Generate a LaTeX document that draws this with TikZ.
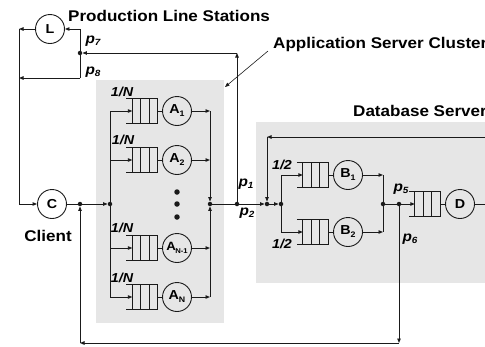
\documentclass[tikz,border=0pt]{standalone}
\usepackage{fontspec}
\setmainfont{Liberation Sans}[FakeStretch=1.1]
\usetikzlibrary{arrows.meta}
\definecolor{boxgray}{HTML}{E6E6E6}
\definecolor{ink}{HTML}{1A1A1A}
\newcommand\subx[2]{\raisebox{-#2}{\fontsize{8}{8}\selectfont #1}}
\newcommand\plab[1]{{\fontsize{14}{14}\selectfont\bfseries\itshape p}\raisebox{-2.5pt}{\fontsize{9}{9}\selectfont\bfseries\itshape #1}}
\newcommand\drawqueue[1]{%
  \draw[wire] ([xshift=-6pt]#1.north west) -- (#1.north east) -- (#1.south east) -- ([xshift=-6pt]#1.south west);
  \foreach \s in {0,8.33,16.67} \draw[wire] ([xshift=\s pt]#1.north west) -- ([xshift=\s pt]#1.south west);}
\tikzset{
  wire/.style={draw=ink, line width=0.9pt},
  arr/.style={wire, -{Triangle[length=4.5pt,width=3.5pt]}},
  server/.style={circle, draw=ink, line width=0.9pt, minimum size=29pt, inner sep=0pt, font=\fontsize{13}{13}\selectfont\bfseries},
  queue/.style={rectangle, minimum width=25pt, minimum height=25pt, inner sep=0pt},
  dot/.style={circle, fill=ink, minimum size=4.5pt, inner sep=0pt},
  bigdot/.style={circle, fill=ink, minimum size=5.5pt, inner sep=0pt},
  lbl/.style={font=\fontsize{15.5}{15.5}\selectfont\bfseries, inner sep=0pt},
  fraclbl/.style={font=\fontsize{13}{13}\selectfont\bfseries\itshape, inner sep=0pt},
  plbl/.style={inner sep=0pt},
}
\begin{document}
\begin{tikzpicture}[x=1pt,y=-1pt]
\useasboundingbox (0,0) rectangle (485,346);
\clip (0,0) rectangle (485,346);
% panels
\fill[boxgray] (96,80) rectangle (224,323);
\fill[boxgray] (256,122) rectangle (495,283);
% titles
\node[lbl, anchor=west] (tpl) at (68,16) {Production Line Stations};
\node[lbl, anchor=west] (tas) at (273,44) {Application Server Cluster};
\node[lbl, anchor=west] (tdb) at (353,111) {Database Server};
\node[lbl] (tcl) at (48,236) {Client};
% main nodes
\node[server] (L) at (50,29) {L};
\node[server] (C) at (52,204) {C};
% junctions
\node[dot] (p78) at (80,53) {};
\node[dot] (jc) at (80,204) {};
\node[dot] (aL) at (110,204) {};
\node[dot] (aR) at (210,204) {};
\node[dot] (p12) at (237,204) {};
\node[dot] (dbin) at (267,204) {};
\node[dot] (bL) at (281,204) {};
\node[dot] (bR) at (383,204) {};
\node[dot] (p56) at (399,204) {};
% coordinates
\coordinate (lw) at (19,29);
\coordinate (p7c) at (80,29);
\coordinate (p8c) at (80,78);
\coordinate (p8end) at (19,78);
\coordinate (tr) at (237,53);
\coordinate (fbL) at (267,137);
\coordinate (fbR) at (489,137);
\coordinate (dOut) at (489,204);
\coordinate (bcR) at (399,343);
\coordinate (bcL) at (80,343);
\coordinate (leadA) at (268,51);
\coordinate (leadB) at (225,87);
% application servers
\foreach \n/\y in {1/111,2/160,3/248,4/297}{
  \node[queue] (qa\n) at (145,\y) {};
  \drawqueue{qa\n}
}
\node[server] (a1) at (177,111) {A\subx{1}{3pt}};
\node[server] (a2) at (177,160) {A\subx{2}{3pt}};
\node[server] (a3) at (177,248) {\fontsize{12}{12}\selectfont A\kern-0.5pt\subx{\fontsize{7}{7}\selectfont N-1}{2.5pt}};
\node[server] (a4) at (177,297) {A\subx{N}{3pt}};
\node[bigdot] (e1) at (177,192) {};
\node[bigdot] (e2) at (177,204) {};
\node[bigdot] (e3) at (177,217) {};
\foreach \n in {1,2,3,4}{
  \draw[arr] (aL) |- (qa\n.west);
  \draw[wire] (qa\n.east) -- (a\n.west);
  \draw[arr] (a\n.east) -- (aR |- a\n);
}
\draw[arr] (aR |- a1) -- (aR);
\draw[arr] (aR |- a4) -- (aR);
\node[fraclbl] (f1) at (122,92) {1/N};
\node[fraclbl] (f2) at (123,140) {1/N};
\node[fraclbl] (f3) at (122,228) {1/N};
\node[fraclbl] (f4) at (122,278) {1/N};
% database
\node[queue] (qb1) at (315.5,175) {};
\node[queue] (qb2) at (315.5,232) {};
\node[queue] (qd) at (427.5,204) {};
\drawqueue{qb1}
\drawqueue{qb2}
\drawqueue{qd}
\node[server] (b1) at (348,175) {B\subx{1}{3pt}};
\node[server] (b2) at (348,232) {B\subx{2}{3pt}};
\node[server] (d) at (460,204) {D};
\node[fraclbl] (h1) at (282,165) {1/2};
\node[fraclbl] (h2) at (282,244) {1/2};
\foreach \n in {1,2}{
  \draw[arr] (bL) |- (qb\n.west);
  \draw[wire] (qb\n.east) -- (b\n.west);
  \draw[arr] (b\n.east) -- (bR |- b\n);
}
\draw[wire] (bR |- b1) -- (bR |- b2);
\draw[wire] (bR) -- (p56);
\draw[arr] (p56) -- (qd.west);
\draw[wire] (qd.east) -- (d.west);
\draw[wire] (d.east) -- (dOut);
\draw[arr] (dOut) -- (fbR);
\draw[arr] (fbR) -- (fbL);
\draw[arr] (fbL) -- (dbin);
% main flow
\draw[wire] (C.east) -- (jc);
\draw[arr] (jc) -- (aL);
\draw[wire] (aR) -- (p12);
\draw[arr] (p12) -- (dbin);
\draw[arr] (dbin) -- (bL);
% production line loop
\draw[arr] (p12) -- (tr);
\draw[arr] (tr) -- (p78);
\draw[wire] (p78) -- (p7c);
\draw[arr] (p7c) -- (L.east);
\draw[wire] (p78) -- (p8c);
\draw[arr] (p8c) -- (p8end);
\draw[arr] (L.west) -- (lw);
\draw[arr] (lw) |- (C.west);
% bottom loop
\draw[arr] (p56) -- (bcR);
\draw[arr] (bcR) -- (bcL);
\draw[arr] (bcL) -- (jc);
% leader
\draw[arr, line width=0.6pt] (leadA) -- (leadB);
% probability labels
\node[plbl] (lp7) at (93,41) {\plab{7}};
\node[plbl] (lp8) at (93,72) {\plab{8}};
\node[plbl] (lp1) at (246,184) {\plab{1}};
\node[plbl] (lp2) at (247,213) {\plab{2}};
\node[plbl] (lp5) at (401,189) {\plab{5}};
\node[plbl] (lp6) at (410,239) {\plab{6}};
\end{tikzpicture}
\end{document}
